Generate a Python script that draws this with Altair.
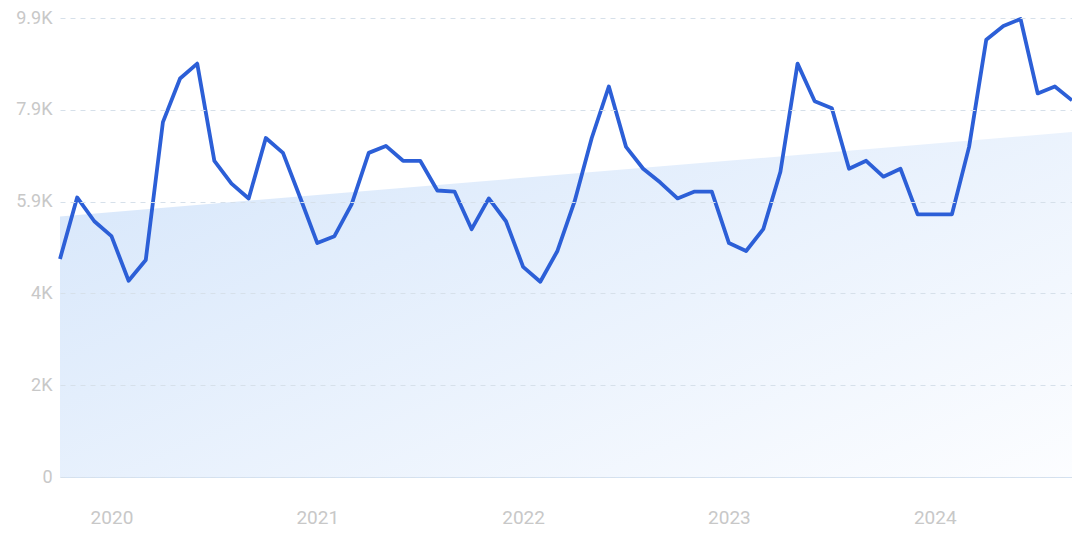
import altair as alt
import pandas as pd

# Monthly values, Oct 2019 .. Sep 2024
months = pd.date_range("2019-10-01", "2024-09-01", freq="MS").strftime("%Y-%m").tolist()
values = [
    4704, 6029, 5516, 5195, 4233, 4682, 7654, 8595, 8916, 6820, 6329, 6008,
    7312, 6991, 6029, 5046, 5195, 5880, 6991, 7141, 6820, 6820, 6179, 6157,
    5345, 6008, 5516, 4533, 4212, 4875, 5944, 7312, 8424, 7120, 6649, 6350,
    6008, 6157, 6157, 5046, 4875, 5345, 6585, 8916, 8103, 7953, 6649, 6820,
    6478, 6649, 5666, 5666, 5666, 7120, 9429, 9728, 9878, 8274, 8424, 8124,
]
trend_start = 5620
trend_end = 7440
y_ticks = [0, 1980, 3960, 5940, 7920, 9900]
y_tick_labels = ["0", "2K", "4K", "5.9K", "7.9K", "9.9K"]
year_ticks = [3, 15, 27, 39, 51]
year_labels = ["2020", "2021", "2022", "2023", "2024"]

df = pd.DataFrame({"i": list(range(len(months))), "month": months, "value": values})
trend = pd.DataFrame({"i": [0, len(months) - 1], "value": [trend_start, trend_end]})

ylab_expr = "{" + ",".join(f"'{v}':'{l}'" for v, l in zip(y_ticks, y_tick_labels)) + "}[datum.value]"
xlab_expr = "{" + ",".join(f"'{v}':'{l}'" for v, l in zip(year_ticks, year_labels)) + "}[datum.value]"

x_enc = alt.X(
    "i:Q",
    scale=alt.Scale(domain=[0, len(months) - 1], nice=False, zero=False),
    axis=alt.Axis(
        values=year_ticks, labelExpr=xlab_expr, title=None, grid=False, ticks=False,
        domain=True, domainColor="#d3e2f3", labelColor="#c8c8c8", labelFontSize=19,
        labelFont="Roboto", labelPadding=31,
    ),
)
y_enc = alt.Y(
    "value:Q",
    scale=alt.Scale(domain=[0, 9900], nice=False),
    axis=alt.Axis(
        values=y_ticks, labelExpr=ylab_expr, title=None, grid=True, gridDash=[5, 5],
        gridColor="#d6e0ea", ticks=False, domain=False, labelColor="#c8c8c8",
        labelFontSize=18, labelFont="Roboto", labelPadding=8, zindex=1,
    ),
)

area = alt.Chart(trend).mark_area(
    color=alt.Gradient(
        gradient="linear",
        stops=[alt.GradientStop(color="#d9e8fb", offset=0), alt.GradientStop(color="#fcfdff", offset=1)],
        x1=0, y1=0.2, x2=1, y2=1,
    )
).encode(x=x_enc, y=y_enc)

line = alt.Chart(df).mark_line(color="#2c5fd7", strokeWidth=3.8, strokeJoin="round").encode(
    x=alt.X("i:Q"), y=alt.Y("value:Q")
)

chart = (
    alt.layer(area, line)
    .properties(width=1012, height=459, autosize=alt.AutoSizeParams(type="none"),
                padding={"left": 52, "top": 10, "right": 0, "bottom": 54})
    .configure_view(stroke=None)
)

chart.save("out.html", embed_options={"renderer": "svg", "actions": False})
